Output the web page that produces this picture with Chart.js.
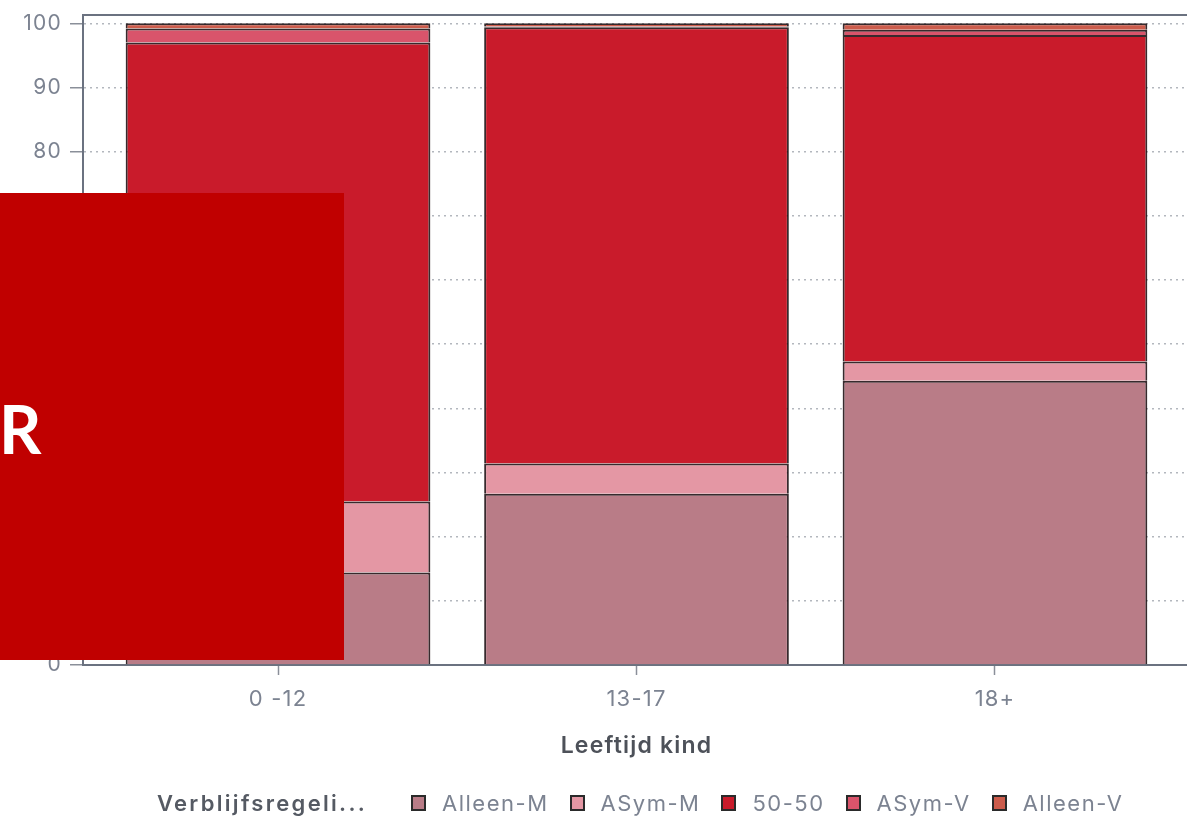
<!DOCTYPE html>
<html>
<head>
<meta charset="utf-8">
<script src="https://cdn.jsdelivr.net/npm/chart.js@4.4.1/dist/chart.umd.min.js"></script>
<style>
  body { margin: 0; background: #fff; overflow: hidden; width: 1187px; height: 819px; position: relative; font-family: Inter, "Noto Sans", sans-serif; }
  #wrap { position: absolute; left: 0; top: 0; width: 1200px; height: 819px; }
  #legend { position: absolute; left: 157px; top: 788px; height: 30px; display: flex; align-items: center; font-size: 22px; color: #7c8391; letter-spacing: 1.5px; white-space: nowrap; }
  #legend .ttl { font-weight: 600; color: #555a63; margin-right: 44px; letter-spacing: 2.3px; }
  #legend .item { display: flex; align-items: center; margin-right: 21px; }
  #legend .box { width: 11px; height: 12px; border: 2px solid #2a2a2a; margin-right: 16px; }
  #overlay { position: absolute; left: 0; top: 193px; width: 344px; height: 467px; background: #c00000; }
  #overlay span { position: absolute; left: -1px; top: 203px; color: #fff; font-family: Lato, sans-serif; font-weight: 700; font-size: 66px; line-height: 1; }
</style>
</head>
<body>
<div id="wrap"><canvas id="myChart"></canvas></div>
<div id="legend"></div>
<div id="overlay"><span>R</span></div>
<script>
// categories and series (percent of children per age group)
var categories = ['0 -12', '13-17', '18+'];
var seriesNames = ['Alleen-M', 'ASym-M', '50-50', 'ASym-V', 'Alleen-V'];
var alleenM = [14.4, 26.7, 44.3];
var asymM = [11.1, 4.7, 3.0];
var fiftyFifty = [71.5, 68.0, 50.9];
var asymV = [2.2, 0.1, 0.8];
var alleenV = [0.8, 0.5, 1.0];
var yTicks = [0, 10, 20, 30, 40, 50, 60, 70, 80, 90, 100];

var seriesValues = [alleenM, asymM, fiftyFifty, asymV, alleenV];
var seriesColors = ['#b97c87', '#e497a4', '#c91b2b', '#d9546b', '#cc5c4c'];

var axisColor = '#6b7280';
var textColor = '#7c8391';

function toPoints(values) {
    var pts = [];
    for (var i = 0; i < values.length; i++) {
        pts.push({ x: i, y: values[i] });
    }
    return pts;
}

var datasets = [];
for (var s = 0; s < seriesNames.length; s++) {
    datasets.push({
        label: seriesNames[s],
        data: toPoints(seriesValues[s]),
        backgroundColor: seriesColors[s],
        borderColor: 'rgba(20,5,8,0.85)',
        borderWidth: 2,
        barPercentage: 0.85,
        categoryPercentage: 1
    });
}

// html legend
var legend = document.getElementById('legend');
var ttl = document.createElement('span');
ttl.className = 'ttl';
ttl.textContent = 'Verblijfsregeli...';
legend.appendChild(ttl);
for (var k = 0; k < seriesNames.length; k++) {
    var item = document.createElement('span');
    item.className = 'item';
    var box = document.createElement('span');
    box.className = 'box';
    box.style.background = seriesColors[k];
    var txt = document.createElement('span');
    txt.textContent = seriesNames[k];
    item.appendChild(box);
    item.appendChild(txt);
    legend.appendChild(item);
}

// top frame line + wider letter spacing for axis text
var framePlugin = {
    id: 'frame',
    beforeDraw: function(chart) {
        chart.ctx.letterSpacing = '1.2px';
    },
    afterDraw: function(chart) {
        var a = chart.chartArea, ctx = chart.ctx;
        ctx.save();
        ctx.strokeStyle = axisColor;
        ctx.lineWidth = 2;
        ctx.beginPath();
        ctx.moveTo(a.left, a.top);
        ctx.lineTo(a.right, a.top);
        ctx.stroke();
        ctx.restore();
        ctx.letterSpacing = '0px';
    }
};

function noPad(scale) {
    scale.paddingTop = 0;
    scale.paddingBottom = 0;
    scale.paddingLeft = 0;
    scale.paddingRight = 0;
}

var ctx = document.getElementById('myChart').getContext('2d');
var myChart = new Chart(ctx, {
    type: 'bar',
    data: { datasets: datasets },
    plugins: [framePlugin],
    options: {
        responsive: true,
        maintainAspectRatio: false,
        animation: false,
        layout: { padding: { top: 15, right: 10, bottom: 0, left: 0 } },
        plugins: {
            legend: { display: false },
            tooltip: { enabled: false }
        },
        scales: {
            x: {
                type: 'linear',
                stacked: true,
                offset: false,
                min: -0.544,
                max: 2.544,
                afterBuildTicks: function(scale) {
                    scale.ticks = categories.map(function(c, i) { return { value: i }; });
                },
                afterFit: function(scale) { scale.height = 154; noPad(scale); },
                ticks: {
                    color: textColor,
                    font: { family: 'Inter', size: 22 },
                    padding: 11,
                    maxRotation: 0,
                    autoSkip: false,
                    callback: function(v) { return categories[v]; }
                },
                grid: { offset: false, drawOnChartArea: false, drawTicks: true, tickLength: 10, tickColor: '#8a8f99', tickWidth: 1.5 },
                border: { display: true, color: axisColor, width: 2 },
                title: {
                    display: true,
                    text: 'Leeftijd kind',
                    color: '#4d5159',
                    font: { family: 'Inter', size: 23, weight: '600' },
                    padding: { top: 0, bottom: 59 }
                }
            },
            y: {
                stacked: true,
                min: 0,
                max: 101.3,
                afterBuildTicks: function(scale) {
                    scale.ticks = yTicks.map(function(v) { return { value: v }; });
                },
                afterFit: function(scale) { scale.width = 83; noPad(scale); },
                ticks: {
                    color: textColor,
                    font: { family: 'Inter', size: 21 },
                    padding: 8
                },
                grid: { color: '#b3b7be', lineWidth: 1.5, tickLength: 13, tickColor: '#8a8f99', tickWidth: 1.5 },
                border: { display: true, color: axisColor, width: 2, dash: [2, 4] }
            }
        }
    }
});
</script>
</body>
</html>
